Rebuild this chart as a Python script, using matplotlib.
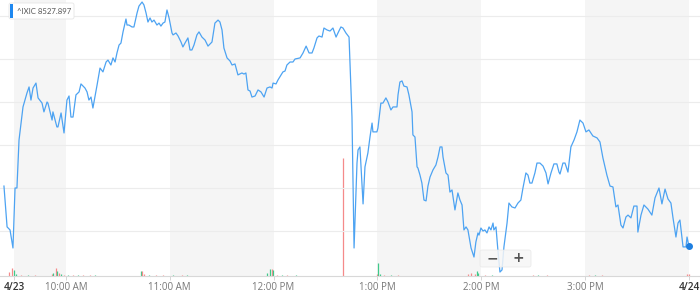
import matplotlib
matplotlib.use("Agg")
import matplotlib.pyplot as plt
from matplotlib.patches import FancyBboxPatch, Rectangle

plt.rcParams['font.family'] = ['Open Sans', 'DejaVu Sans']

# minutes since 9:30 open, ^IXIC price
minutes = [-5.8, -4.0, -2.3, -0.6, 0.6, 1.7, 2.9, 5.2, 7.5, 8.7, 9.8, 11.0, 12.7, 13.9,
           16.2, 17.3, 19.1, 19.6, 22.0, 22.5, 24.8, 25.4, 27.2, 28.9, 30.6, 31.8, 32.9,
           34.1, 35.8, 37.6, 38.7, 41.0, 42.2, 43.3, 44.5, 45.6, 48.0, 49.7, 51.4, 53.2,
           54.3, 56.0, 57.2, 58.4, 59.5, 60.7, 61.8, 63.0, 64.7, 65.3, 66.4, 68.2, 69.3,
           71.1, 72.2, 74.0, 75.1, 76.3, 77.4, 78.6, 79.7, 80.9, 82.6, 83.8, 84.9, 86.1,
           87.2, 88.4, 89.6, 91.3, 91.9, 93.6, 94.8, 96.5, 97.6, 98.8, 100.5, 101.7, 102.8,
           104.0, 105.7, 106.9, 108.6, 110.4, 112.1, 114.4, 116.1, 117.9, 119.0, 120.2,
           121.3, 123.1, 124.8, 126.0, 127.7, 129.4, 131.7, 132.9, 134.0, 135.2, 136.4,
           137.5, 139.3, 141.0, 142.7, 144.5, 146.2, 147.9, 149.1, 149.7, 151.4, 152.5,
           154.3, 155.4, 156.6, 157.7, 159.5, 161.2, 162.4, 165.3, 167.0, 168.8, 170.5,
           172.2, 173.3, 175.1, 176.2, 178.0, 179.1, 180.9, 182.6, 184.3, 186.1, 187.2,
           188.9, 190.1, 191.8, 193.6, 195.3, 196.5, 198.2, 198.8, 199.9, 201.7, 202.8,
           204.0, 204.5, 205.7, 206.9, 207.4, 209.7, 210.3, 212.0, 213.2, 214.9, 216.1,
           217.8, 219.0, 221.3, 221.9, 223.0, 224.2, 225.3, 227.1, 228.2, 230.0, 230.5,
           231.7, 232.9, 233.4, 234.6, 235.7, 236.9, 238.1, 239.2, 240.4, 242.1, 243.8,
           245.0, 246.2, 247.3, 247.9, 249.6, 250.8, 251.9, 253.1, 254.8, 256.5, 257.7,
           258.9, 260.0, 261.2, 262.3, 264.1, 265.8, 266.9, 268.1, 268.7, 269.8, 271.0,
           272.1, 273.3, 274.5, 275.6, 276.8, 277.3, 278.5, 279.6, 280.8, 282.0, 283.1,
           284.9, 286.0, 287.7, 289.5, 291.2, 292.9, 294.1, 295.8, 297.0, 298.1, 299.3,
           301.0, 302.2, 303.9, 305.7, 307.4, 308.6, 310.3, 312.0, 313.7, 314.9, 315.5,
           317.2, 318.4, 320.1, 321.8, 323.6, 325.3, 327.0, 328.8, 330.5, 332.2, 334.5,
           336.9, 338.6, 340.3, 342.6, 344.4, 346.1, 347.8, 349.0, 350.7, 351.9, 353.6,
           354.8, 356.5, 358.2, 360.0, 360.5, 362.3, 364.0, 366.3, 368.6, 370.4, 372.7,
           374.4, 376.2, 377.9, 379.6, 380.8, 382.5, 383.7, 384.8, 386.6, 388.3, 388.9,
           390.0]
prices = [8540.9, 8521.9, 8520.5, 8512.1, 8540.0, 8540.0, 8562.3, 8577.7, 8584.2, 8587.0,
          8580.9, 8586.5, 8588.8, 8581.9, 8579.5, 8575.4, 8580.0, 8579.5, 8571.6, 8575.4,
          8568.4, 8568.4, 8574.9, 8565.6, 8580.9, 8582.8, 8573.0, 8573.0, 8583.3, 8584.7,
          8588.4, 8586.5, 8584.7, 8580.9, 8582.3, 8577.2, 8587.9, 8595.8, 8594.0, 8598.6,
          8599.5, 8597.2, 8600.5, 8598.6, 8602.8, 8606.5, 8607.4, 8612.6, 8618.6, 8615.8,
          8615.8, 8614.9, 8614.9, 8621.4, 8624.6, 8626.5, 8625.1, 8621.4, 8617.2, 8619.1,
          8617.2, 8618.1, 8615.8, 8616.7, 8615.3, 8616.7, 8617.2, 8622.8, 8619.1, 8612.1,
          8611.2, 8612.1, 8610.7, 8607.9, 8605.6, 8607.4, 8609.8, 8604.2, 8604.2, 8606.5,
          8611.2, 8612.6, 8610.2, 8608.8, 8606.0, 8607.9, 8616.7, 8618.1, 8617.2, 8613.5,
          8605.1, 8600.5, 8599.1, 8597.2, 8597.7, 8592.6, 8593.5, 8593.0, 8593.5, 8585.6,
          8585.1, 8582.3, 8582.8, 8585.6, 8584.7, 8582.3, 8586.5, 8587.0, 8586.5, 8588.8,
          8588.4, 8590.2, 8592.6, 8594.0, 8594.4, 8597.2, 8598.6, 8598.6, 8600.0, 8600.5,
          8602.8, 8606.0, 8602.8, 8602.8, 8605.1, 8609.8, 8610.7, 8610.2, 8614.4, 8613.5,
          8613.0, 8614.4, 8610.2, 8612.1, 8614.9, 8614.4, 8612.1, 8610.2, 8573.0, 8512.1,
          8551.6, 8557.7, 8559.1, 8532.6, 8549.8, 8554.4, 8556.3, 8563.7, 8570.2, 8566.1,
          8566.1, 8567.9, 8579.5, 8579.5, 8581.9, 8580.0, 8576.3, 8577.7, 8577.7, 8583.3,
          8589.3, 8589.8, 8587.4, 8587.0, 8583.3, 8575.4, 8564.7, 8563.7, 8549.8, 8549.3,
          8546.0, 8542.3, 8534.4, 8534.0, 8540.9, 8545.1, 8548.4, 8550.7, 8554.4, 8559.1,
          8559.1, 8554.4, 8547.0, 8546.0, 8538.1, 8539.1, 8529.8, 8537.7, 8534.4, 8532.1,
          8520.5, 8521.9, 8520.5, 8512.1, 8507.9, 8514.9, 8519.1, 8518.1, 8521.4, 8520.0,
          8520.5, 8519.1, 8521.9, 8520.5, 8523.7, 8520.5, 8521.9, 8511.2, 8500.9, 8501.9,
          8512.6, 8523.7, 8533.0, 8531.2, 8530.7, 8533.0, 8534.4, 8540.0, 8547.0, 8546.0,
          8542.3, 8542.3, 8547.0, 8551.6, 8551.6, 8550.2, 8547.0, 8541.9, 8547.0, 8551.2,
          8551.2, 8547.4, 8546.5, 8551.6, 8551.6, 8547.4, 8559.1, 8562.3, 8566.1, 8571.6,
          8570.2, 8566.1, 8567.0, 8564.2, 8563.3, 8561.4, 8554.0, 8546.0, 8540.9, 8540.5,
          8531.2, 8532.1, 8522.8, 8521.4, 8526.5, 8527.4, 8526.1, 8531.6, 8531.6, 8519.5,
          8527.4, 8532.1, 8530.2, 8527.4, 8535.4, 8540.0, 8532.6, 8539.5, 8534.9, 8533.0,
          8526.1, 8517.2, 8523.7, 8525.1, 8512.6, 8512.6, 8517.2, 8513.0]

# volume bars (millions of shares), direction of the bar
vol_minutes = [-2.9, -1.2, 0.0, 1.2, 4.0, 8.0, 12.0, 22.0, 22.5, 24.3, 24.8, 26.0, 27.2,
               29.0, 31.0, 34.0, 37.0, 40.0, 44.0, 47.0, 73.4, 74.0, 75.1, 78.0, 82.0,
               86.0, 92.0, 97.0, 100.0, 146.2, 147.9, 149.1, 149.7, 152.0, 155.0, 158.0,
               163.0, 190.1, 209.7, 210.3, 211.5, 214.0, 218.0, 222.0, 262.3, 264.1, 266.4,
               267.5, 268.1, 272.0, 276.0, 300.0, 303.0, 308.0, 332.0, 336.0, 340.0,
               388.9, 390.0]
volumes = [0.4, 0.8, 0.6, 0.2, 0.1, 0.1, 0.1, 0.2, 0.3, 0.8, 0.5, 0.3, 0.2,
           0.1, 0.1, 0.1, 0.1, 0.1, 0.1, 0.1, 0.5, 0.5, 0.2, 0.1, 0.1,
           0.1, 0.1, 0.1, 0.1, 0.3, 0.7, 0.7, 0.6, 0.1, 0.1, 0.1,
           0.1, 11.8, 0.2, 1.3, 0.2, 0.1, 0.1, 0.1, 0.2, 0.3, 0.2,
           0.5, 0.3, 0.1, 0.1, 0.1, 0.1, 0.1, 0.1, 0.1, 0.1,
           0.2, 0.2]
vol_dir = ['dn', 'dn', 'up', 'up', 'dn', 'up', 'dn', 'dn', 'up', 'dn', 'up', 'dn', 'up',
           'dn', 'up', 'dn', 'up', 'dn', 'dn', 'up', 'up', 'dn', 'dn', 'up', 'dn',
           'dn', 'up', 'dn', 'up', 'up', 'up', 'dn', 'up', 'dn', 'up', 'dn',
           'up', 'dn', 'dn', 'up', 'up', 'dn', 'up', 'dn', 'dn', 'dn', 'dn',
           'up', 'up', 'dn', 'up', 'dn', 'up', 'dn', 'dn', 'up', 'dn',
           'dn', 'dn']

tick_minutes = [0, 30, 90, 150, 210, 270, 330, 390]
tick_labels = ['4/23', '10:00 AM', '11:00 AM', '12:00 PM', '1:00 PM', '2:00 PM',
               '3:00 PM', '4/24']
shaded = [(0, 30), (90, 150), (210, 270), (330, 390)]
grid_prices = [8520, 8540, 8560, 8580, 8600, 8620]

fig = plt.figure(figsize=(7, 2.93), dpi=100)
# volume axis underneath, carries the shading
axv = fig.add_axes([0, 17 / 293, 1, 276 / 293])
ax = fig.add_axes([0, 17 / 293, 1, 276 / 293], sharex=axv)
ax.set_xlim(-8.09, 396.4)
ax.set_ylim(8499.07, 8627.44)
axv.set_ylim(0, 27.6)
ax.patch.set_visible(False)

for a, b in shaded:
    axv.axvspan(a, b, color='#f5f5f5', lw=0, zorder=0)
for g in grid_prices:
    ax.axhline(g, color='#ececec', lw=0.8, zorder=1)

cols = ['#3fc98a' if d == 'up' else '#f58a8a' for d in vol_dir]
axv.vlines(vol_minutes, 0, volumes, colors=cols, lw=0.9, zorder=2)

ax.plot(minutes, prices, color='#4da3f2', lw=0.9, zorder=5, solid_joinstyle='round')
ax.plot(minutes[-1], prices[-1], 'o', color='#1e7fe0', ms=4, zorder=6)

for s in ['top', 'right', 'left']:
    ax.spines[s].set_visible(False)
    axv.spines[s].set_visible(False)
axv.spines['bottom'].set_visible(False)
ax.spines['bottom'].set_color('#d8d8d8')
ax.spines['bottom'].set_linewidth(0.8)
ax.set_yticks([])
axv.set_yticks([])
axv.tick_params(axis='x', bottom=False, labelbottom=False)
ax.set_xticks(tick_minutes)
ax.set_xticklabels(tick_labels, fontsize=7, color='#777777')
ax.tick_params(axis='x', length=3, width=0.6, color='#d0d0d0', pad=1.5)
for lbl in ax.get_xticklabels():
    if '/' in lbl.get_text():
        lbl.set_color('#333333')
        lbl.set_fontsize(7.3)
        lbl.set_fontweight('semibold')

# tooltip box
tb = FancyBboxPatch((9, 293 - 19), 65, 16, boxstyle='round,pad=0,rounding_size=2',
                    transform=None, facecolor='white', edgecolor='#e6e6e6', lw=0.6, zorder=10)
fig.patches.append(tb)
fig.patches.append(Rectangle((10, 293 - 18), 2.5, 14, transform=None,
                             facecolor='#1e88f0', lw=0, zorder=11))
fig.text(17 / 700, 1 - 11.5 / 293, '^IXIC 8527.897', fontsize=5.6, color='#555555',
         va='center', ha='left', zorder=12, family='Lato')

# zoom buttons
zb = FancyBboxPatch((480, 293 - 267), 51, 17, boxstyle='round,pad=0,rounding_size=2',
                    transform=None, facecolor='#f6f6f6', edgecolor='#e8e8e8', lw=0.6,
                    alpha=0.85, zorder=10)
fig.patches.append(zb)
fig.text(492 / 700, 1 - 258 / 293, '\u2212', fontsize=10, color='#555555', fontweight='bold',
         ha='center', va='center', family='DejaVu Sans', zorder=12)
fig.text(518 / 700, 1 - 258 / 293, '+', fontsize=10, color='#555555', fontweight='bold',
         ha='center', va='center', family='DejaVu Sans', zorder=12)

fig.savefig('out.png', dpi=100)
